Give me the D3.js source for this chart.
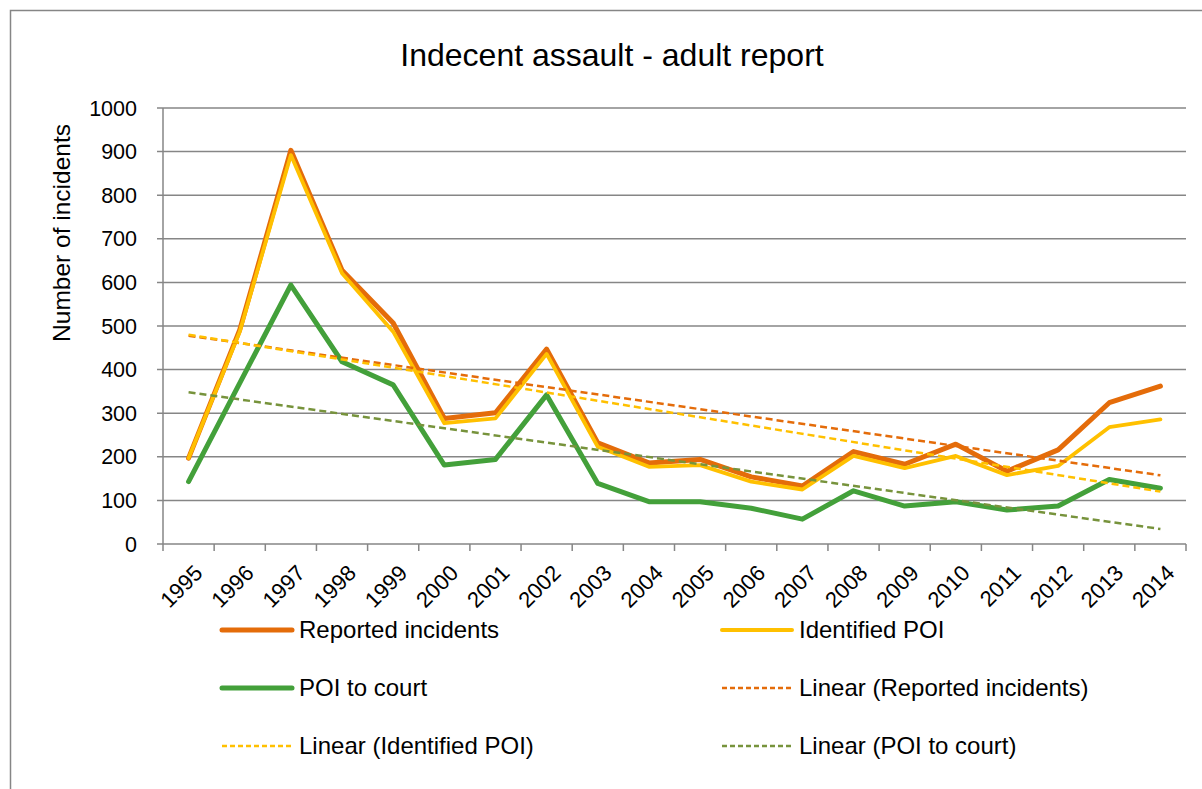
<!DOCTYPE html>
<html><head><meta charset="utf-8">
<script src="https://cdn.jsdelivr.net/npm/d3@7"></script>
<style>body{margin:0;background:#fff;} svg{display:block;font-family:"Liberation Sans",Arial,sans-serif;}</style>
</head><body>
<svg id="c" width="1202" height="789"></svg>
<script>
const years = ["1995","1996","1997","1998","1999","2000","2001","2002","2003","2004","2005","2006","2007","2008","2009","2010","2011","2012","2013","2014"];
const reported = [197,491,903,628,507,288,301,447,232,186,194,154,133,212,183,229,167,216,324,362];
const identified = [197,487,892,621,487,277,288,436,223,177,181,143,125,202,174,202,158,179,268,286];
const poiCourt = [143,369,594,418,365,181,194,342,139,97,97,82,57,122,87,97,78,87,148,128];
const yTicks = [0,100,200,300,400,500,600,700,800,900,1000];
const seriesNames = ["Reported incidents","Identified POI","POI to court"];
const colors = ["#E46C0A","#FFC000","#43A03A"];
const trendColors = ["#E46C0A","#FFC000","#77933C"];

const svg = d3.select("#c");
const L = 163, R = 1186, T = 108, B = 544;

svg.append("rect").attr("x",10.5).attr("y",10.5).attr("width",1250).attr("height",900)
  .attr("fill","#fff").attr("stroke","#868686").attr("stroke-width",1.5);

const x = d3.scaleBand().domain(years).range([L,R]);
const y = d3.scaleLinear().domain([0,1000]).range([B,T]);

// gridlines
svg.append("g").selectAll("line").data(yTicks).join("line")
  .attr("x1",L-6).attr("x2",R).attr("y1",d=>y(d)).attr("y2",d=>y(d))
  .attr("stroke","#868686").attr("stroke-width",1.5);

// y axis
svg.append("line").attr("x1",L).attr("x2",L).attr("y1",T).attr("y2",B).attr("stroke","#868686").attr("stroke-width",1.5);
svg.append("g").selectAll("text").data(yTicks).join("text")
  .attr("x",L-26).attr("y",d=>y(d)).attr("dy","0.35em").attr("text-anchor","end")
  .attr("font-size",21.5).attr("fill","#000").text(d=>d);

// x axis ticks
const bounds = years.map(d=>x(d)).concat([R]);
svg.append("g").selectAll("line").data(bounds).join("line")
  .attr("x1",d=>d).attr("x2",d=>d).attr("y1",B).attr("y2",B+7)
  .attr("stroke","#868686").attr("stroke-width",1.5);
svg.append("g").selectAll("text").data(years).join("text")
  .attr("transform",d=>`translate(${x(d)+x.bandwidth()/2+10},${B+25}) rotate(-45)`)
  .attr("text-anchor","end").attr("dy","0.35em").attr("font-size",22).attr("fill","#000").text(d=>d);

// axis title
svg.append("text").attr("transform",`translate(70,233) rotate(-90)`).attr("text-anchor","middle")
  .attr("font-size",24.5).attr("fill","#000").text("Number of incidents");

// title
svg.append("text").attr("x",612).attr("y",66).attr("text-anchor","middle")
  .attr("font-size",32).attr("fill","#000").text("Indecent assault - adult report");

const cx = d => x(d) + x.bandwidth()/2;
const line = d3.line().x((v,i)=>cx(years[i])).y(v=>y(v));
const data = [reported, identified, poiCourt];
const widths = [5, 3.8, 5];
data.forEach((s,k)=>{
  svg.append("path").attr("d",line(s)).attr("fill","none").attr("stroke",colors[k])
    .attr("stroke-width",widths[k]).attr("stroke-linejoin","round").attr("stroke-linecap","round");
});

// linear trendlines (least squares of each series)
function fit(s){
  const xs=s.map((_,i)=>i);
  const mx=d3.mean(xs), my=d3.mean(s);
  const b=d3.sum(xs.map((xi,i)=>(xi-mx)*(s[i]-my)))/d3.sum(xs.map(xi=>(xi-mx)**2));
  return [my-b*mx, b];
}
data.forEach((s,k)=>{
  const [a,b]=fit(s);
  const n=s.length-1;
  svg.append("line").attr("x1",cx(years[0])).attr("y1",y(a)).attr("x2",cx(years[n])).attr("y2",y(a+b*n))
    .attr("stroke",trendColors[k]).attr("stroke-width",2.5).attr("stroke-dasharray","7,4");
});

// legend
const legend = [
  {name:"Reported incidents", color:colors[0], dash:null, w:5, col:0, row:0},
  {name:"Identified POI", color:colors[1], dash:null, w:4, col:1, row:0},
  {name:"POI to court", color:colors[2], dash:null, w:5, col:0, row:1},
  {name:"Linear (Reported incidents)", color:trendColors[0], dash:"5,3", w:2.5, col:1, row:1},
  {name:"Linear (Identified POI)", color:trendColors[1], dash:"5,3", w:2.5, col:0, row:2},
  {name:"Linear (POI to court)", color:trendColors[2], dash:"5,3", w:2.5, col:1, row:2}
];
const colX = [222, 722], rowY = [630, 688, 746];
const lg = svg.append("g").selectAll("g").data(legend).join("g")
  .attr("transform",d=>`translate(${colX[d.col]},${rowY[d.row]})`);
lg.append("line").attr("x1",0).attr("x2",70).attr("stroke",d=>d.color).attr("stroke-width",d=>d.w)
  .attr("stroke-dasharray",d=>d.dash).attr("stroke-linecap",d=>d.dash?"butt":"round");
lg.append("text").attr("x",77).attr("dy","0.35em").attr("font-size",24).attr("fill","#000").text(d=>d.name);
</script>
</body></html>
